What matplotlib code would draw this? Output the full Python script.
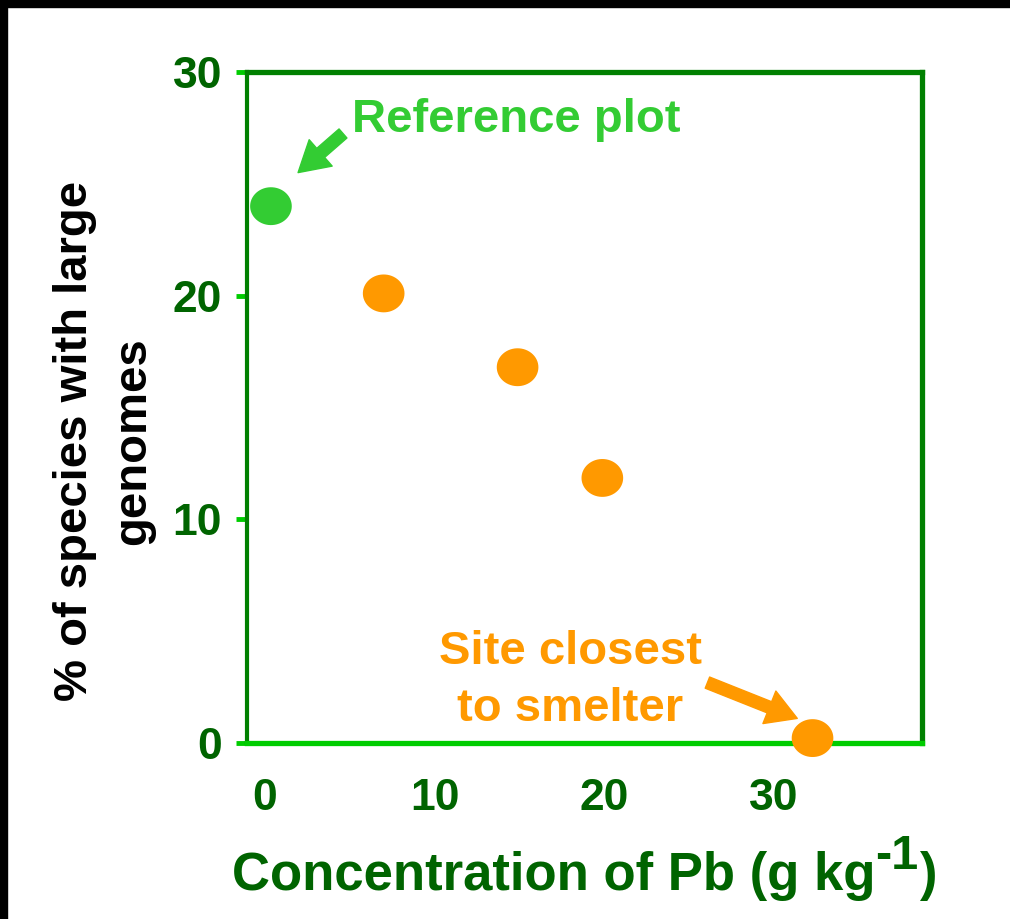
import matplotlib
matplotlib.use("Agg")
import matplotlib.pyplot as plt
from matplotlib.patches import Rectangle
from matplotlib.path import Path
import numpy as np

# Data
ref_x = [0.35]
ref_y = [24.0]
site_x = [7.0, 14.9, 19.9, 32.3]
site_y = [20.1, 16.8, 11.85, 0.22]
xticks = [0, 10, 20, 30]
yticks = [0, 10, 20, 30]

DARK = "#006400"
SPINE = "#008000"
BRIGHT = "#00CC00"
REFC = "#33CC33"
ORANGE = "#FF9900"

plt.rcParams['font.family'] = ['Liberation Sans', 'DejaVu Sans']
plt.rcParams['font.weight'] = 'bold'

fig = plt.figure(figsize=(10.1, 9.19), dpi=100)
ax = fig.add_axes([0.2446, 0.1915, 0.6683, 0.7302])
ax.set_xlim(-1.06, 38.76)
ax.set_ylim(0, 30)

# ellipse marker
t = np.linspace(0, 2 * np.pi, 60)
verts = np.column_stack([1.1 * np.cos(t), 1.0 * np.sin(t)])
ell = Path(verts, closed=True)

ax.scatter(ref_x, ref_y, marker=ell, s=900, color=REFC, edgecolors='none', zorder=5, clip_on=False)
ax.scatter(site_x, site_y, marker=ell, s=900, color=ORANGE, edgecolors='none', zorder=5, clip_on=False)

for side in ['left', 'top', 'right']:
    ax.spines[side].set_color(SPINE)
ax.spines['left'].set_linewidth(3.0)
ax.spines['top'].set_linewidth(3.8)
ax.spines['right'].set_linewidth(3.8)
ax.spines['bottom'].set_color(BRIGHT)
ax.spines['bottom'].set_linewidth(3.8)

ax.set_xticks(xticks)
ax.set_yticks(yticks)
ax.tick_params(axis='y', direction='out', length=8, width=3.5, color=BRIGHT,
               labelcolor=DARK, labelsize=32, pad=10)
ax.tick_params(axis='x', length=0, labelcolor=DARK, labelsize=32, pad=25)
for lab in ax.get_xticklabels() + ax.get_yticklabels():
    lab.set_fontweight('bold')

# y label
fig.text(104 / 1010, 1 - 441 / 919, "% of species with large\ngenomes", rotation=90,
         ha='center', va='center', multialignment='center', fontsize=34,
         fontweight='bold', color='black', linespacing=1.42)

# x label with superscript
t1 = fig.text(232 / 1010, 1 - 890 / 919, "Concentration of Pb (g kg", ha='left',
              va='baseline', fontsize=38, fontweight='bold', color=DARK)
sup = ax.annotate("-1", xy=(1, 0), xycoords=t1, xytext=(0, 16), textcoords='offset points',
                  ha='left', va='bottom', fontsize=35, fontweight='bold', color=DARK,
                  annotation_clip=False)
ax.annotate(")", xy=(1, 0), xycoords=(sup, t1), xytext=(1, 0), textcoords='offset points',
            ha='left', va='bottom', fontsize=38, fontweight='bold', color=DARK,
            annotation_clip=False)

# annotations
ARROW = "simple,head_length=0.9,head_width=1.05,tail_width=0.36"
ax.text(14.8, 27.85, "Reference plot", ha='center', va='center', fontsize=34,
        fontweight='bold', color=REFC)
ax.annotate("", xy=(1.95, 25.5), xytext=(4.6, 27.25),
            arrowprops=dict(arrowstyle=ARROW, color=REFC, mutation_scale=24,
                            shrinkA=0, shrinkB=0))
ax.text(18.0, 2.8, "Site closest\nto smelter", ha='center', va='center',
        multialignment='center', fontsize=34, fontweight='bold', color=ORANGE,
        linespacing=1.37)
ax.annotate("", xy=(31.4, 1.1), xytext=(26.1, 2.7),
            arrowprops=dict(arrowstyle=ARROW, color=ORANGE, mutation_scale=24,
                            shrinkA=0, shrinkB=0))

# black frame on top and left
fig.patches.append(Rectangle((0, 1 - 7 / 919), 1, 7 / 919, transform=fig.transFigure,
                             color='black', zorder=10))
fig.patches.append(Rectangle((0, 0), 7 / 1010, 1, transform=fig.transFigure,
                             color='black', zorder=10))

fig.savefig("out.png", dpi=100)
